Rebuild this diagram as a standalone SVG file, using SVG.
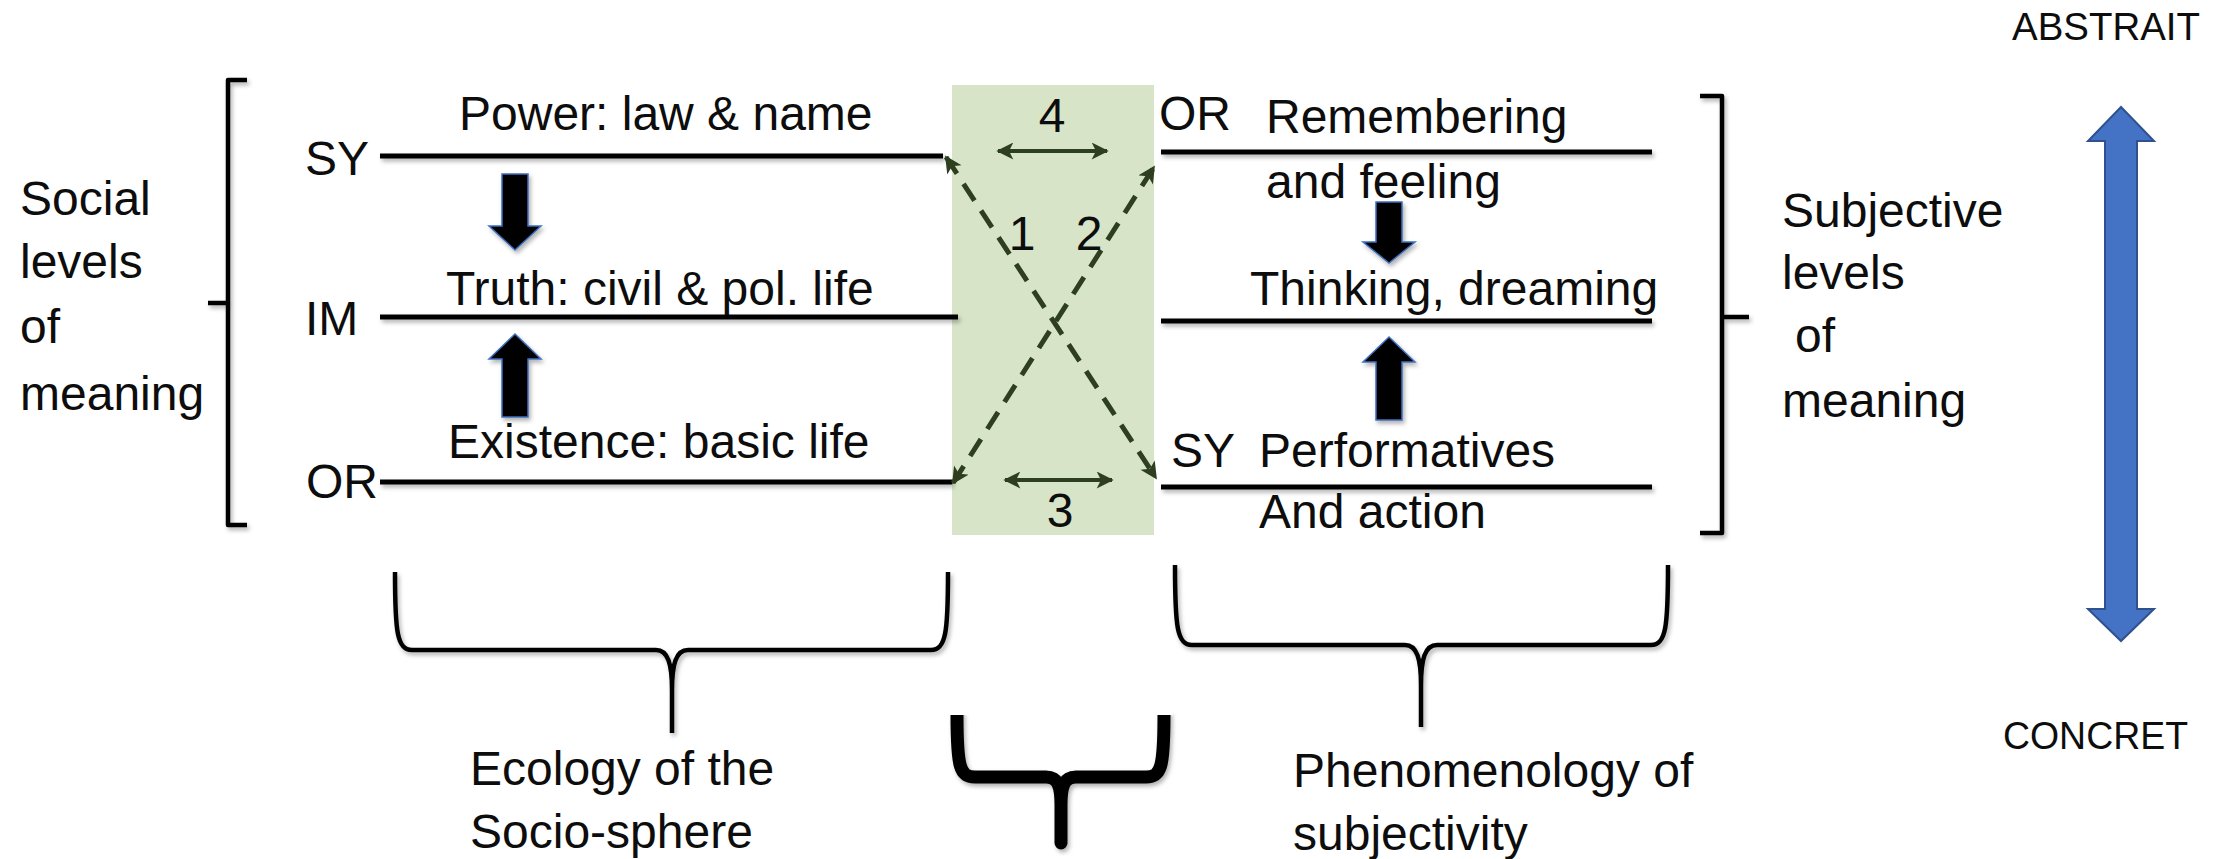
<svg xmlns="http://www.w3.org/2000/svg" width="2226" height="859" viewBox="0 0 2226 859">
  <defs>
    <style>
      .t { font-family: "Liberation Sans", Arial, sans-serif; font-size: 48px; fill: #0d0d0d; }
      .num { text-anchor: middle; }
      .rule { stroke: #000; stroke-width: 5; fill: none; }
      .brk { stroke: #000; stroke-width: 4.5; fill: none; stroke-linejoin: round; }
      .blk { fill: #000; stroke: #3f6fbf; stroke-width: 1.5; }
      .link { stroke: #2d3f1e; stroke-width: 5; fill: none; stroke-dasharray: 20 12; }
      .dbl { stroke: #2d3f1e; stroke-width: 4; fill: none; }
    </style>
    <filter id="shade" filterUnits="userSpaceOnUse" x="0" y="0" width="2226" height="859">
      <feDropShadow dx="2" dy="3" stdDeviation="2" flood-color="#000" flood-opacity="0.3"/>
    </filter>
    <marker id="tipG" viewBox="0 0 10 10" refX="9" refY="5" markerUnits="userSpaceOnUse" markerWidth="19" markerHeight="17" orient="auto-start-reverse">
      <path d="M0,0 L10,5 L0,10 L2.5,5 z" fill="#2d3f1e"/>
    </marker>
  </defs>

  <rect width="2226" height="859" fill="#fff"/>

  <!-- central exchange zone -->
  <g id="exchange-zone">
    <rect x="952" y="85" width="202" height="450" fill="#d7e4c8"/>
  </g>

  <!-- social side -->
  <g id="social-bracket" filter="url(#shade)">
    <path class="brk" d="M247,80 L228,80 L228,525 L247,525 M228,303 L208,303"/>
  </g>
  <g id="social-title">
    <text class="t" x="20" y="215">Social</text>
    <text class="t" x="20" y="278">levels</text>
    <text class="t" x="20" y="343">of</text>
    <text class="t" x="20" y="410">meaning</text>
  </g>
  <g id="level-power">
    <line class="rule" x1="380" y1="156" x2="943" y2="156" filter="url(#shade)"/>
    <text class="t" x="305" y="175">SY</text>
    <text class="t" x="459" y="130">Power: law &amp; name</text>
  </g>
  <g id="level-truth">
    <line class="rule" x1="380" y1="317" x2="958" y2="317" filter="url(#shade)"/>
    <text class="t" x="305" y="335">IM</text>
    <text class="t" x="446" y="305">Truth: civil &amp; pol. life</text>
  </g>
  <g id="level-existence">
    <line class="rule" x1="380" y1="482" x2="952" y2="482" filter="url(#shade)"/>
    <text class="t" x="306" y="498">OR</text>
    <text class="t" x="448" y="458">Existence: basic life</text>
  </g>

  <!-- subjective side -->
  <g id="level-remembering">
    <line class="rule" x1="1161" y1="152" x2="1652" y2="152" filter="url(#shade)"/>
    <text class="t" x="1159" y="130">OR</text>
    <text class="t" x="1266" y="133">Remembering</text>
    <text class="t" x="1266" y="198">and feeling</text>
  </g>
  <g id="level-thinking">
    <line class="rule" x1="1161" y1="321" x2="1652" y2="321" filter="url(#shade)"/>
    <text class="t" x="1250" y="305">Thinking, dreaming</text>
  </g>
  <g id="level-performatives">
    <line class="rule" x1="1161" y1="487" x2="1652" y2="487" filter="url(#shade)"/>
    <text class="t" x="1171" y="467">SY</text>
    <text class="t" x="1259" y="467">Performatives</text>
    <text class="t" x="1259" y="528">And action</text>
  </g>
  <g id="subjective-bracket" filter="url(#shade)">
    <path class="brk" d="M1700,96 L1722,96 L1722,533 L1700,533 M1722,317 L1749,317"/>
  </g>
  <g id="subjective-title">
    <text class="t" x="1782" y="227">Subjective</text>
    <text class="t" x="1782" y="289">levels</text>
    <text class="t" x="1795" y="352">of</text>
    <text class="t" x="1782" y="417">meaning</text>
  </g>

  <!-- abstract / concrete scale -->
  <g id="scale">
    <polygon points="2121,107 2154,141 2137,141 2137,609 2154,609 2121,641 2088,609 2105,609 2105,141 2088,141" fill="#4472c4" stroke="#2f528f" stroke-width="2" stroke-linejoin="miter"/>
    <text class="t" x="2012" y="40" style="font-size:39px" textLength="188" lengthAdjust="spacingAndGlyphs">ABSTRAIT</text>
    <text class="t" x="2003" y="749" style="font-size:38px" textLength="185" lengthAdjust="spacingAndGlyphs">CONCRET</text>
  </g>

  <!-- lower groupings -->
  <g id="ecology-brace">
    <path class="brk" filter="url(#shade)" d="M395,572 C395,632 397,650 412,650 L656,650 C668,650 672,664 672,690 L672,733 M948,572 C948,632 946,650 931,650 L688,650 C676,650 672,664 672,690"/>
    <text class="t" x="470" y="785">Ecology of the</text>
    <text class="t" x="470" y="848">Socio-sphere</text>
  </g>
  <g id="exchange-brace">
    <path filter="url(#shade)" d="M957,715 C957,768 960,777 975,777 L1046,777 C1058,777 1061,786 1061,805 L1061,843 M1164,715 C1164,768 1161,777 1146,777 L1076,777 C1064,777 1061,786 1061,805" stroke="#000" stroke-width="13" fill="none" stroke-linecap="round" stroke-linejoin="round"/>
    <rect x="948" y="706" width="225" height="9" fill="#fff"/>
  </g>
  <g id="phenomenology-brace">
    <path class="brk" filter="url(#shade)" d="M1175,565 C1175,627 1177,645 1192,645 L1405,645 C1417,645 1421,659 1421,685 L1421,727 M1668,565 C1668,627 1666,645 1651,645 L1437,645 C1425,645 1421,659 1421,685"/>
    <text class="t" x="1293" y="787">Phenomenology of</text>
    <text class="t" x="1293" y="850">subjectivity</text>
  </g>

  <!-- connectors -->
  <g id="connectors">
    <polygon class="blk" filter="url(#shade)" points="502,174 528,174 528,226 541,226 515,250 489,226 502,226"/>
    <polygon class="blk" filter="url(#shade)" points="515,334 541,359 528,359 528,417 502,417 502,359 489,359"/>
    <polygon class="blk" filter="url(#shade)" points="1376,202 1402,202 1402,242 1415,242 1389,263 1363,242 1376,242"/>
    <polygon class="blk" filter="url(#shade)" points="1389,337 1415,362 1402,362 1402,420 1376,420 1376,362 1363,362"/>

    <line class="link" x1="946" y1="157" x2="1156" y2="478" marker-start="url(#tipG)" marker-end="url(#tipG)"/>
    <line class="link" x1="953" y1="483" x2="1154" y2="167" marker-start="url(#tipG)" marker-end="url(#tipG)"/>

    <line class="dbl" x1="998" y1="151" x2="1107" y2="151" marker-start="url(#tipG)" marker-end="url(#tipG)"/>
    <line class="dbl" x1="1005" y1="480" x2="1112" y2="480" marker-start="url(#tipG)" marker-end="url(#tipG)"/>

    <text class="t num" x="1052" y="132">4</text>
    <text class="t num" x="1022" y="250">1</text>
    <text class="t num" x="1089" y="250">2</text>
    <text class="t num" x="1060" y="527">3</text>
  </g>
</svg>
